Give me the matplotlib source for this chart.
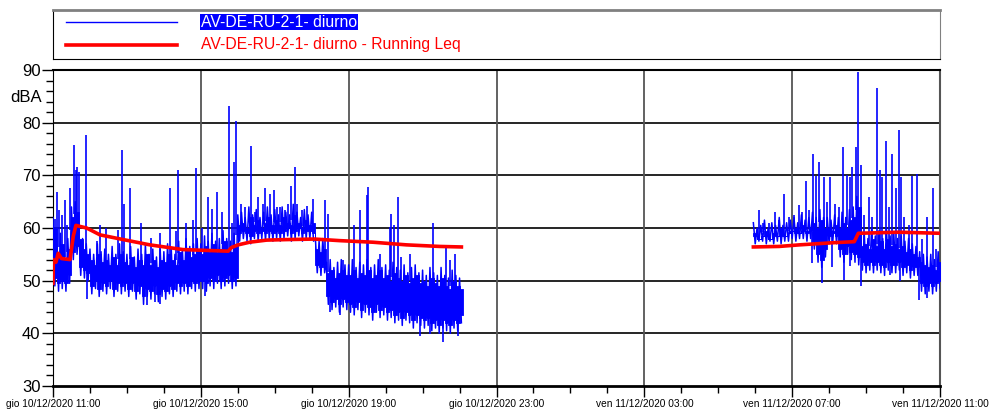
import numpy as np
import matplotlib.pyplot as plt

plt.rcParams['font.family'] = ['Liberation Sans', 'DejaVu Sans']

# asse dei tempi: ore a partire da gio 10/12/2020 11:00
tick_hours = [0, 4, 8, 12, 16, 20, 24]
tick_labels = ['gio 10/12/2020 11:00', 'gio 10/12/2020 15:00', 'gio 10/12/2020 19:00',
               'gio 10/12/2020 23:00', 'ven 11/12/2020 03:00', 'ven 11/12/2020 07:00',
               'ven 11/12/2020 11:00']

# --- primo blocco: massimi e minimi ogni 6 minuti (dBA), dalle 11:00 ---
blk1_start = 0.0
blk1_max = [62, 57, 59, 56, 58, 64, 65, 60, 58, 57,
            56, 55, 57, 55.5, 56, 55, 56.5, 55, 57, 55.5,
            55, 56.5, 54.5, 56, 55, 57, 55, 56, 54.5, 56,
            55.5, 57, 56, 55, 57.5, 56, 58, 56.5, 57, 58,
            57, 58.5, 57.5, 59, 57.5, 58, 59.5, 58, 57.5, 59,
            62.5, 63, 62, 64, 62.5, 63.5, 62, 63, 64, 62.5,
            63.5, 62.5, 64, 63, 62.5, 64.5, 63, 62, 63.5, 62.5,
            63, 58, 57.5, 58, 53.5, 54, 52.5, 53.5, 54, 53,
            53, 54, 52.5, 53.5, 53, 54, 52.5, 53, 54, 52.5,
            53, 52, 53.5, 52.5, 52, 53, 51.5, 52.5, 53, 51.5,
            52, 51, 52.5, 51.5, 51, 52.5, 51, 50.5, 52, 51, 50.5]
blk1_min = [49, 48, 48.5, 48, 49.5, 54, 55, 51, 50.5, 50,
            47.5, 48.5, 47, 48, 47.5, 48.5, 47, 48, 47.5, 48,
            47, 48, 46.5, 47.5, 45.5, 47, 46.5, 47.5, 46, 47,
            46.5, 47.5, 47, 48, 47.5, 48, 47.5, 48.5, 48, 48.5,
            48.5, 48, 49, 48.5, 49.5, 48.5, 49, 49.5, 48.5, 49,
            57.5, 58, 57.5, 57, 58, 57.5, 58, 57.5, 58, 57.5,
            58, 57.5, 58, 58.5, 57.5, 58, 58.5, 57.5, 58, 58,
            57.5, 51.5, 51, 51.5, 45.5, 44.5, 45, 44, 45, 44.5,
            44, 43.5, 44.5, 43, 44, 43.5, 42.5, 44, 43, 43.5,
            42.5, 43, 42, 42.5, 41.5, 42.5, 42, 41, 42, 41.5,
            41, 41.5, 40.5, 41, 40, 41, 40.5, 40, 41, 40.5, 42]

# picchi (ora, dBA) e minimi isolati (ora, dBA)
peak1_t = [0.05, 0.12, 0.17, 0.24, 0.32, 0.37, 0.46, 0.57, 0.61, 0.64, 0.71, 0.89,
           1.18, 1.27, 1.43, 1.76, 1.86, 1.92, 2.08, 2.38, 2.64, 2.89,
           3.16, 3.34, 3.39, 3.59, 3.79, 3.88, 4.03, 4.20, 4.29, 4.45, 4.56,
           4.75, 4.83, 4.89, 4.95, 5.10, 5.19, 5.35, 5.46, 5.55, 5.68, 5.73,
           5.86, 5.97, 6.05, 6.14, 6.27, 6.36, 6.45, 6.54, 6.60, 6.73, 6.88,
           7.04, 7.35, 7.44, 7.84, 8.14, 8.30, 8.49, 8.53, 8.84, 9.11, 9.15,
           9.22, 9.33, 9.42, 9.65, 10.28, 10.64, 10.73, 10.88]
peak1_db = [61.8, 66.8, 63.5, 62.4, 65.3, 60.5, 67.5, 75.7, 71, 71.6, 70.6, 77.6,
            57.5, 60.5, 60, 59.6, 74.9, 64.6, 67.5, 61, 58.1, 59,
            67.5, 59.5, 71.1, 61, 61.6, 71.3, 60, 65.9, 63.7, 66.8, 63,
            83.1, 61, 72.5, 80.4, 64.6, 64, 75.5, 63, 65.9, 64.6, 67.5,
            66.5, 67.3, 64, 64, 63.5, 64.5, 67.9, 71.5, 64.5, 63.5, 64.2,
            65.6, 65.4, 62.7, 54, 60.5, 63.4, 66.2, 67.8, 55, 60.2, 62.7,
            60.5, 65.9, 54.5, 55, 61, 56.4, 54, 55]
dip1_t = [0.92, 2.53, 2.76, 2.89, 4.11, 7.49, 7.76, 9.92, 10.19, 10.55, 10.95]
dip1_db = [46.5, 45.3, 46, 45.5, 47, 44, 43.5, 39.5, 39.8, 38.4, 39.5]

# --- secondo blocco: dalle 05:57 del giorno dopo ---
blk2_start = 18.95
blk2_max = [61, 60, 60.5, 61.5, 60, 61, 60.5, 62, 60.5, 61,
            61.5, 62, 61, 62.5, 61.5, 62, 63, 62, 63.5, 62,
            62, 61.5, 62.5, 62, 63, 62, 63.5, 64, 66, 58.5,
            59, 58, 60, 58.5, 59.5, 58, 60, 58.5, 59, 58,
            58.5, 57.5, 58, 57, 56.5, 55.5, 55, 54.5, 55, 54, 55.5]
blk2_min = [57, 57.5, 57.5, 57, 57.5, 57, 57.5, 57, 57.5, 57.5,
            58, 57.5, 58, 58, 57.5, 58, 56, 53.5, 52.5, 54.5,
            57, 57.5, 57, 54.5, 53.5, 55, 54, 53.5, 53, 52,
            51.5, 52, 51.5, 52, 51.5, 51, 52, 51.5, 51.5, 52,
            51, 51.5, 50.5, 51, 51, 48, 47.5, 48, 47.5, 48, 48.5]
peak2_t = [19.09, 19.22, 19.38, 19.53, 19.65, 19.78, 19.92, 20.05, 20.19, 20.27,
           20.37, 20.46, 20.57, 20.64, 20.73, 20.85, 20.95, 21.03, 21.16, 21.27,
           21.38, 21.45, 21.49, 21.57, 21.63, 21.72, 21.79, 21.86, 21.95, 22.08,
           22.16, 22.29, 22.37, 22.44, 22.53, 22.62, 22.71, 22.81, 22.89, 22.94,
           23.03, 23.16, 23.24, 23.38, 23.51, 23.66, 23.81, 23.89]
peak2_db = [63.4, 61, 61, 63, 61.5, 66.4, 62, 62.5, 64.3, 63,
            68.9, 63.5, 74.1, 69.8, 72.5, 69.6, 65, 69.6, 64.5, 64,
            75.3, 62, 70, 69.7, 71.6, 75.3, 89.6, 72, 62.5, 65.9,
            62, 86.6, 71, 69.7, 76.6, 64, 74.1, 67.5, 78.7, 69.7,
            62, 60.5, 69.8, 70.3, 58, 62.1, 67.5, 56]
dip2_t = [20.54, 20.82, 21.08, 21.41, 21.57, 21.86, 22.65, 22.92, 23.42, 23.65]
dip2_db = [53.4, 49.6, 52.5, 50.2, 52.7, 48.9, 51, 50, 46.3, 46.8]

# --- Running Leq ---
leq1_t = [0.00, 0.01, 0.08, 0.14, 0.23, 0.46, 0.55, 0.62, 0.73, 0.91, 1.27, 1.90,
          2.62, 3.52, 4.74, 4.83, 5.01, 5.32, 5.78, 6.32, 7.08, 7.76, 8.66, 9.56,
          10.46, 11.05]
leq1_db = [49.5, 54.0, 53.5, 55.2, 54.2, 54.0, 58.5, 60.5, 60.3, 60.0, 58.7, 57.8,
           56.8, 55.9, 55.6, 56.3, 56.8, 57.3, 57.7, 57.8, 57.9, 57.6, 57.3, 56.8,
           56.5, 56.4]
leq2_t = [18.95, 19.65, 20.2, 21.09, 21.68, 21.79, 22.89, 24.0]
leq2_db = [56.4, 56.5, 56.8, 57.2, 57.4, 59.0, 59.2, 59.0]

fig = plt.figure(figsize=(9.96, 4.15), dpi=100)
ax = fig.add_axes([53 / 996, 1 - 386 / 415, 887 / 996, 316 / 415])

blue = '#0000ff'
step = 0.1  # 6 minuti
for start, mx, mn, pt, pk, dt, dp in [(blk1_start, blk1_max, blk1_min, peak1_t, peak1_db, dip1_t, dip1_db),
                                      (blk2_start, blk2_max, blk2_min, peak2_t, peak2_db, dip2_t, dip2_db)]:
    t = start + step * np.arange(len(mx))
    mx = np.array(mx)
    mn = np.array(mn)
    # parte densa del segnale
    core_hi = mx - 2
    core_lo = np.minimum(mn + 1.5, core_hi)
    ax.fill_between(np.column_stack([t, t + step]).ravel(),
                    np.repeat(core_lo, 2), np.repeat(core_hi, 2),
                    color=blue, lw=0.6, edgecolor=blue, zorder=3)
    # segnale: alterna massimo e minimo di ogni intervallo
    xs = np.column_stack([t, t + step / 2]).ravel()
    ys = np.column_stack([mx, mn]).ravel()
    ax.plot(xs, ys, color=blue, lw=1.1, zorder=3)
    base_hi = np.interp(pt, t, mx)
    ax.vlines(pt, base_hi - 2, pk, color=blue, lw=1.2, zorder=3)
    base_lo = np.interp(dt, t + step / 2, mn)
    ax.vlines(dt, dp, base_lo + 2, color=blue, lw=1.2, zorder=3)

ax.plot(leq1_t, leq1_db, color='#ff0000', lw=2.6, zorder=4)
ax.plot(leq2_t, leq2_db, color='#ff0000', lw=2.6, zorder=4)

ax.set_xlim(0, 24)
ax.set_ylim(30, 90)
ax.set_xticks(tick_hours)
ax.set_xticklabels(tick_labels, fontsize=7.3)
ax.set_xticks(np.arange(0, 25, 1), minor=True)
ax.set_yticks(np.arange(30, 91, 10))
ax.set_yticks(np.arange(30, 91, 2), minor=True)
ax.tick_params(axis='y', which='major', length=8, width=1, labelsize=12, pad=1)
ax.tick_params(axis='y', which='minor', length=5, width=1)
ax.tick_params(axis='x', which='major', length=8, width=1, pad=1.5)
ax.tick_params(axis='x', which='minor', length=5, width=1)

for v in range(40, 90, 10):
    ax.axhline(v, color='black', lw=1.2, zorder=1)
for h in tick_hours[1:-1]:
    ax.axvline(h, color='#555555', lw=1.3, zorder=1)

ax.spines['bottom'].set_linewidth(2)
ax.spines['top'].set_linewidth(1.5)
ax.spines['right'].set_color('#555555')
ax.spines['right'].set_linewidth(1.5)

fig.text(10 / 996, 1 - 97 / 415, 'dBA', fontsize=12, va='center', ha='left')

# legenda
lg = fig.add_axes([53 / 996, 1 - 59 / 415, 887 / 996, 49 / 415])
lg.set_xticks([])
lg.set_yticks([])
lg.set_xlim(0, 1)
lg.set_ylim(0, 1)
for s in lg.spines.values():
    s.set_color('black')
lg.spines['top'].set_color('#808080')
lg.spines['top'].set_linewidth(2)
lg.spines['right'].set_color('#808080')
lg.plot([0.0147, 0.1398], [0.755, 0.755], color=blue, lw=1)
lg.plot([0.0147, 0.1398], [0.286, 0.286], color='#ff0000', lw=2.6)
lg.text(0.1669, 0.755, 'AV-DE-RU-2-1- diurno', color='white', fontsize=11.3, va='center',
        bbox=dict(facecolor=blue, edgecolor='none', pad=0.5))
lg.text(0.1669, 0.286, 'AV-DE-RU-2-1- diurno - Running Leq', color='#ff0000',
        fontsize=11.3, va='center')

fig.savefig('out.png', dpi=100)
